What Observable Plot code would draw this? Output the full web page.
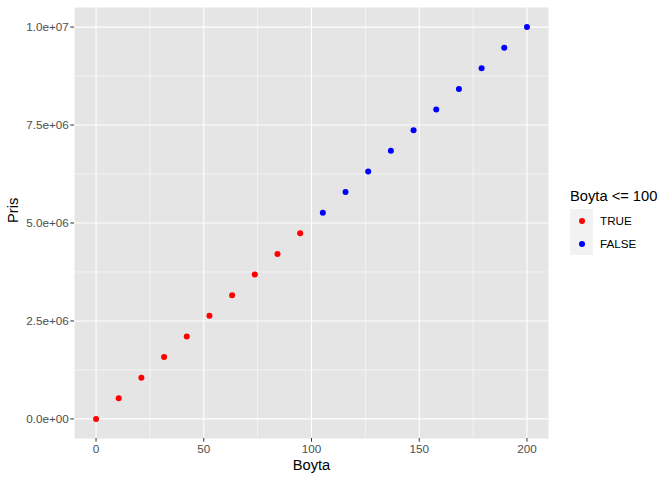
<!DOCTYPE html>
<html>
<head>
<meta charset="utf-8">
<script src="https://cdn.jsdelivr.net/npm/d3@7"></script>
<script src="https://cdn.jsdelivr.net/npm/@observablehq/plot@0.6"></script>
<style>
  body { margin: 0; background: white; font-family: "Liberation Sans", Arial, sans-serif; }
  #wrap { position: relative; width: 672px; height: 480px; }
  #legend { position: absolute; left: 570px; top: 186px; }
  #legend .title { font-size: 14.7px; color: #000; line-height: 20px; height: 20px; }
  #legend .row { position: absolute; left: 0; height: 23px; width: 100px; }
  #legend .key { position: absolute; left: 0; top: 0; width: 23px; height: 23px; background: #f2f2f2; }
  #legend .dot { position: absolute; left: 8.5px; top: 8.5px; width: 6px; height: 6px; border-radius: 50%; }
  #legend .lab { position: absolute; left: 30px; top: 0; line-height: 23px; font-size: 11.7px; color: #000; }
</style>
</head>
<body>
<div id="wrap"></div>
<script>
const boyta = [0, 10.526, 21.053, 31.579, 42.105, 52.632, 63.158, 73.684, 84.211, 94.737,
               105.263, 115.789, 126.316, 136.842, 147.368, 157.895, 168.421, 178.947, 189.474, 200];
const pris = [0, 526316, 1052632, 1578947, 2105263, 2631579, 3157895, 3684211, 4210526, 4736842,
              5263158, 5789474, 6315789, 6842105, 7368421, 7894737, 8421053, 8947368, 9473684, 10000000];
const groups = ["TRUE", "FALSE"];
const groupColors = ["#ff0000", "#0000ff"];
const xTicks = [0, 50, 100, 150, 200];
const xMinor = [25, 75, 125, 175];
const yTicks = [0, 2500000, 5000000, 7500000, 10000000];
const yMinor = [1250000, 3750000, 6250000, 8750000];

const data = boyta.map((b, i) => ({boyta: b, pris: pris[i], grp: b <= 100 ? "TRUE" : "FALSE"}));
const fmt = d => d.toExponential(1).replace(/e([+-])(\d)$/, "e$10$2");

const chart = Plot.plot({
  width: 672,
  height: 480,
  marginLeft: 74,
  marginRight: 124,
  marginTop: 7,
  marginBottom: 42,
  style: {fontFamily: "Liberation Sans, Arial, sans-serif", background: "white"},
  x: {domain: [-10, 210]},
  y: {domain: [-500000, 10500000]},
  color: {domain: groups, range: groupColors},
  marks: [
    Plot.frame({fill: "#e5e5e5", stroke: null}),
    Plot.gridX(xMinor, {stroke: "white", strokeOpacity: 1, strokeWidth: 0.55}),
    Plot.gridY(yMinor, {stroke: "white", strokeOpacity: 1, strokeWidth: 0.55}),
    Plot.gridX(xTicks, {stroke: "white", strokeOpacity: 1, strokeWidth: 1.1}),
    Plot.gridY(yTicks, {stroke: "white", strokeOpacity: 1, strokeWidth: 1.1}),
    Plot.axisX(xTicks, {tickSize: 3.7, tickPadding: 2, stroke: "#333333", fill: "#4d4d4d", fontSize: 11.7, label: null}),
    Plot.axisY(yTicks, {tickSize: 3.7, tickPadding: 2, stroke: "#333333", fill: "#4d4d4d", fontSize: 11.7, label: null, tickFormat: fmt}),
    Plot.text(["Boyta"], {frameAnchor: "bottom", dy: 31, fontSize: 14.7, fill: "black"}),
    Plot.text(["Pris"], {frameAnchor: "left", dx: -61, rotate: -90, fontSize: 14.7, fill: "black"}),
    Plot.dot(data, {x: "boyta", y: "pris", fill: "grp", r: 3, stroke: null})
  ]
});
const wrap = document.getElementById("wrap");
wrap.appendChild(chart);

const legend = document.createElement("div");
legend.id = "legend";
let html = `<div class="title">Boyta &lt;= 100</div>`;
groups.forEach((g, i) => {
  html += `<div class="row" style="top:${23 + i * 23}px"><div class="key"><div class="dot" style="background:${groupColors[i]}"></div></div><div class="lab">${g}</div></div>`;
});
legend.innerHTML = html;
wrap.appendChild(legend);
</script>
</body>
</html>
